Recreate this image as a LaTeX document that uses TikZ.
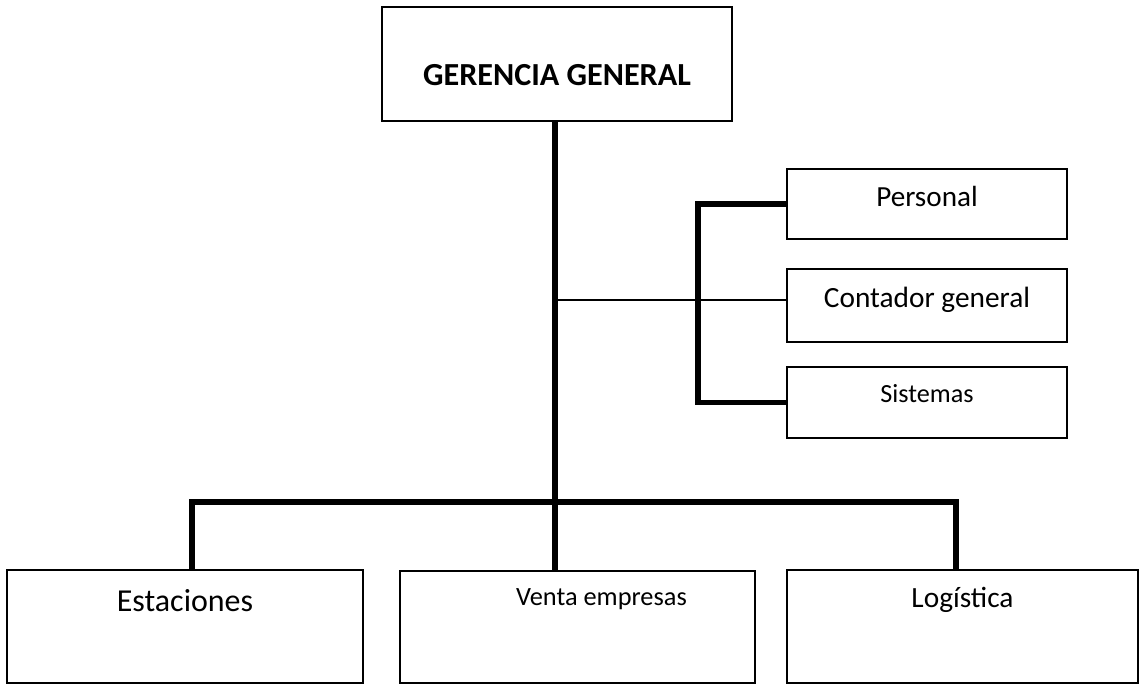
\documentclass[tikz,border=0pt]{standalone}
\usepackage{fontspec}
\setmainfont{Carlito}

\begin{document}
\begin{tikzpicture}[x=0.02cm, y=-0.02cm,
  box/.style={draw=black, line width=1.1pt, inner sep=0pt, anchor=base},
  thin link/.style={draw=black, line width=1.7pt},
  thick link/.style={draw=black, line width=3.2pt}]
\useasboundingbox (0,0) rectangle (1140,685);

% top
\node[box, minimum width=7cm, text height=1.58cm, text depth=0.7cm,
  font=\bfseries\fontsize{18.3}{20}\selectfont] (gg) at (557,86) {GERENCIA GENERAL};

% staff boxes
\node[box, minimum width=5.6cm, text height=0.76cm, text depth=0.64cm,
  font=\fontsize{16.6}{18}\selectfont] (per) at (927,207) {Personal};
\node[box, minimum width=5.6cm, text height=0.78cm, text depth=0.68cm,
  font=\fontsize{16.7}{18}\selectfont] (con) at (927,308) {Contador general};
\node[box, minimum width=5.6cm, text height=0.72cm, text depth=0.70cm,
  font=\fontsize{14.9}{16}\selectfont] (sis) at (927,403) {Sistemas};

% lower boxes
\node[box, minimum width=7.12cm, text height=0.84cm, text depth=1.42cm,
  font=\fontsize{18.2}{20}\selectfont] (est) at (185,612) {Estaciones};
\node[box, minimum width=7.1cm, text height=0.7cm, text depth=1.54cm,
  font=\fontsize{15}{16}\selectfont] (ven) at (577.5,606) {\hspace*{0.96cm}Venta empresas};
\node[box, minimum width=7.02cm, text height=0.76cm, text depth=1.5cm,
  font=\fontsize{16.7}{18}\selectfont] (log) at (962.5,608) {Log\'istica};

\coordinate (trunk) at (555,0);
\coordinate (brk) at (698,300);
\coordinate (barL) at (192,502);
\coordinate (barR) at (956,502);

% lines
\draw[thick link] (gg.south -| trunk) -- (ven.north -| trunk);
\draw[thin link] (brk -| trunk) -- (brk -| con.west);
\draw[thick link] (per.west) -| (brk) |- (sis.west);
\draw[thick link] (est.north -| barL) -- (barL) -- (barR) -- (log.north -| barR);
\end{tikzpicture}
\end{document}
